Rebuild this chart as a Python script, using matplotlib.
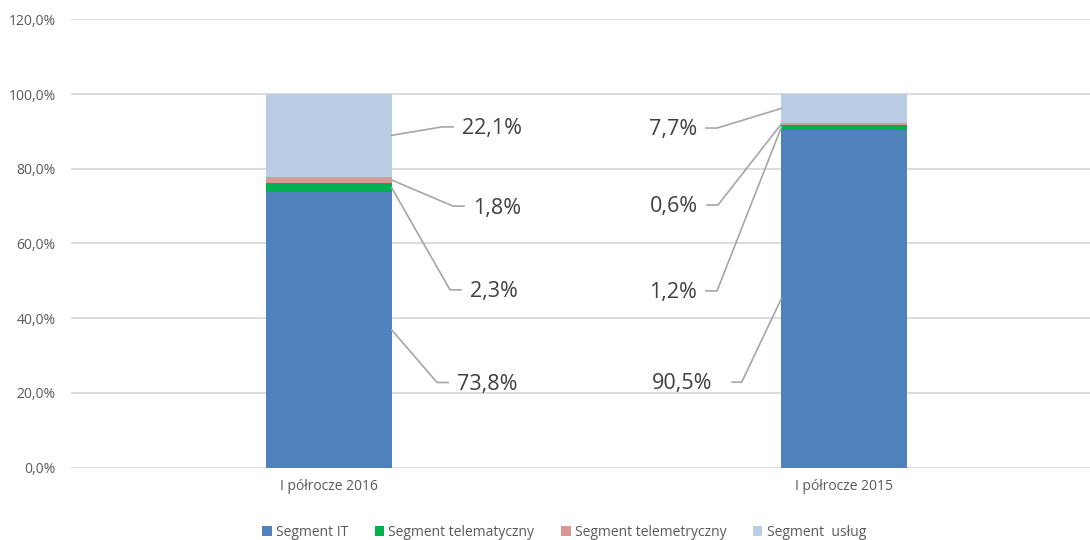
import matplotlib.pyplot as plt
from matplotlib.patches import Patch
from matplotlib.ticker import FuncFormatter

# dane
categories = ["I półrocze 2016", "I półrocze 2015"]
series_names = ["Segment IT", "Segment telematyczny", "Segment telemetryczny", "Segment  usług"]
seg_it = [73.8, 90.5]
seg_telematyczny = [2.3, 1.2]
seg_telemetryczny = [1.8, 0.6]
seg_uslug = [22.1, 7.7]
values = [seg_it, seg_telematyczny, seg_telemetryczny, seg_uslug]
colors = ["#4F81BD", "#00B050", "#D99694", "#B9CDE5"]

# pozycje etykiet (współrzędne danych): x tekstu, y tekstu
label_x = [[0.249, 0.274, 0.280, 0.2585], [0.7435, 0.7144, 0.7163, 0.7144]]
label_y = [[22.8, 47.6, 70.0, 91.2], [22.9, 47.3, 70.3, 90.9]]

plt.rcParams["font.family"] = ["Open Sans", "DejaVu Sans"]

fig = plt.figure(figsize=(10.9, 5.4), dpi=100)
ax = fig.add_axes([71 / 1090, (540 - 467.7) / 540, 1031 / 1090, 448.4 / 540])

bar_w = 0.244
xs = list(range(len(categories)))
bottoms = [0.0] * len(categories)
for name, vals, col in zip(series_names, values, colors):
    ax.bar(xs, vals, bar_w, bottom=bottoms, color=col, label=name, zorder=2)
    bottoms = [b + v for b, v in zip(bottoms, vals)]

ax.set_xlim(-0.5, 1.5)
ax.set_ylim(0, 120)
ax.set_yticks(range(0, 121, 20))
ax.yaxis.set_major_formatter(FuncFormatter(lambda v, p: f"{v:.1f}%".replace(".", ",")))
ax.set_xticks(xs)
ax.set_xticklabels(categories)
ax.tick_params(axis="both", length=0, labelsize=10, labelcolor="#595959")
ax.tick_params(axis="y", pad=11)
ax.tick_params(axis="x", pad=8)
ax.grid(axis="y", color="#D9D9D9", linewidth=1.3, zorder=0)
ax.set_axisbelow(True)
for s in ax.spines.values():
    s.set_visible(False)

# etykiety z liniami odniesienia
gap_elbow = 0.0388
gap_end = 0.0175
for ci in xs:
    bottom = 0.0
    for si, vals in enumerate(values):
        v = vals[ci]
        ay = bottom + v / 2
        bottom += v
        tx = label_x[ci][si]
        ty = label_y[ci][si]
        txt = f"{v:.1f}%".replace(".", ",")
        if ci == 0:
            ax0 = ci + bar_w / 2
            ex, hx = tx - gap_elbow, tx - gap_end
            ha = "left"
        else:
            ax0 = ci - bar_w / 2
            ex, hx = tx + gap_elbow, tx + gap_end
            ha = "right"
            if si == 0:
                ex, hx = tx + 0.0576, tx + 0.0388
        ax.plot([ax0, ex, hx], [ay, ty, ty], color="#A6A6A6", linewidth=1.2,
                clip_on=False, zorder=3)
        ax.text(tx, ty - 0.5, txt, ha=ha, va="center", fontsize=15.5, color="#404040")

handles = [Patch(facecolor=c, edgecolor="none") for c in colors]
fig.legend(handles, series_names, loc="center", bbox_to_anchor=(564 / 1090, 8 / 540),
           ncol=4, frameon=False, fontsize=10, labelcolor="#595959",
           handlelength=0.7, handleheight=0.7, handletextpad=0.3, columnspacing=1.9)

fig.savefig("out.png", dpi=100)
